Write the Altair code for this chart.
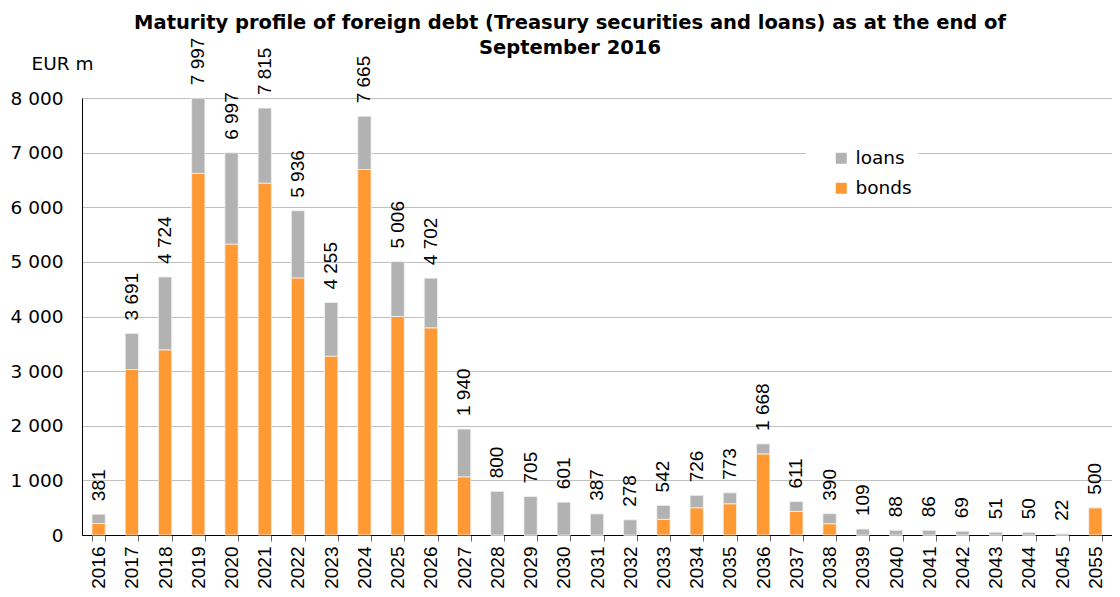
import altair as alt
import pandas as pd

years = ["2016", "2017", "2018", "2019", "2020", "2021", "2022", "2023", "2024", "2025",
         "2026", "2027", "2028", "2029", "2030", "2031", "2032", "2033", "2034", "2035",
         "2036", "2037", "2038", "2039", "2040", "2041", "2042", "2043", "2044", "2045", "2055"]
totals = [381, 3691, 4724, 7997, 6997, 7815, 5936, 4255, 7665, 5006,
          4702, 1940, 800, 705, 601, 387, 278, 542, 726, 773,
          1668, 611, 390, 109, 88, 86, 69, 51, 50, 22, 500]
bonds = [210, 3030, 3390, 6620, 5327, 6442, 4707, 3275, 6691, 4000,
         3793, 1065, 0, 0, 0, 0, 0, 287, 499, 572,
         1485, 432, 207, 0, 0, 0, 0, 0, 0, 0, 500]
loans = [171, 661, 1334, 1377, 1670, 1373, 1229, 980, 974, 1006,
         909, 875, 800, 705, 601, 387, 278, 255, 227, 201,
         183, 179, 183, 109, 88, 86, 69, 51, 50, 22, 0]
series_names = ["loans", "bonds"]
series_colors = ["#B2B2B2", "#FF9933"]

FONT_H = "DejaVu Sans"      # horizontal texts (reference is horizontally stretched)
FONT_R = "Liberation Sans"  # rotated texts

rows = []
for y, b, l in zip(years, bonds, loans):
    rows.append({"year": y, "series": "bonds", "value": b, "ord": 0})
    rows.append({"year": y, "series": "loans", "value": l, "ord": 1})
df = pd.DataFrame(rows)

lab = pd.DataFrame({
    "year": years,
    "total": totals,
    "label": [f"{t:,}".replace(",", " ") for t in totals],
})

x_enc = alt.X("year:O", sort=years,
              scale=alt.Scale(paddingInner=0.6, paddingOuter=0.3),
              axis=alt.Axis(title=None, labelAngle=270, labelAlign="right", labelBaseline="middle",
                            labelFontSize=19, labelFont=FONT_R, labelColor="#000",
                            labelPadding=5, tickSize=6, tickBand="extent",
                            tickColor="#666", domainColor="#000", grid=False))

bars = alt.Chart(df).mark_bar(stroke="#f2f2f2", strokeWidth=0.8).encode(
    x=x_enc,
    y=alt.Y("value:Q", stack="zero",
            scale=alt.Scale(domain=[0, 8000], nice=False),
            axis=alt.Axis(title="EUR m", titleAngle=0, titleAlign="left", titleBaseline="middle",
                          titleX=-51, titleY=-35, titleFont=FONT_H, titleFontSize=18.5,
                          titleFontWeight="normal", titleColor="#000",
                          values=[0, 1000, 2000, 3000, 4000, 5000, 6000, 7000, 8000],
                          labelExpr="replace(format(datum.value, ','), ',', ' ')",
                          labelFont=FONT_H, labelFontSize=18.5, labelColor="#000", labelPadding=19,
                          ticks=False, domainColor="#000",
                          grid=True, gridColor="#808080", gridDash=[1, 1], gridWidth=1)),
    color=alt.Color("series:N", scale=alt.Scale(domain=series_names, range=series_colors),
                    legend=alt.Legend(title=None, orient="none", legendX=724, legendY=45,
                                      padding=6, symbolOffset=20, symbolType="square",
                                      symbolSize=121, symbolStrokeWidth=0,
                                      labelFont=FONT_H, labelFontSize=18.5, labelColor="#000",
                                      rowPadding=11, labelOffset=5,
                                      fillColor="white")),
    order=alt.Order("ord:Q"),
)

labels = alt.Chart(lab).mark_text(angle=270, align="left", baseline="middle", dx=13,
                                   font=FONT_R, fontSize=19, color="#000").encode(
    x=alt.X("year:O", sort=years),
    y=alt.Y("total:Q"),
    text="label:N",
)

chart = alt.layer(bars, labels).properties(
    width=1030, height=437,
    title=alt.TitleParams(
        ["Maturity profile of foreign debt (Treasury securities and loans) as at the end of",
         "September 2016"],
        font=FONT_H, fontSize=19.5, fontWeight="bold", color="#000", anchor="middle",
        dx=-27, dy=21, offset=0, lineHeight=25),
    autosize=alt.AutoSizeParams(type="none"),
    padding={"left": 74, "top": 90, "right": 0, "bottom": 54},
).configure_view(stroke=None)

chart.save("out.html", embed_options={"renderer": "svg", "actions": False})
